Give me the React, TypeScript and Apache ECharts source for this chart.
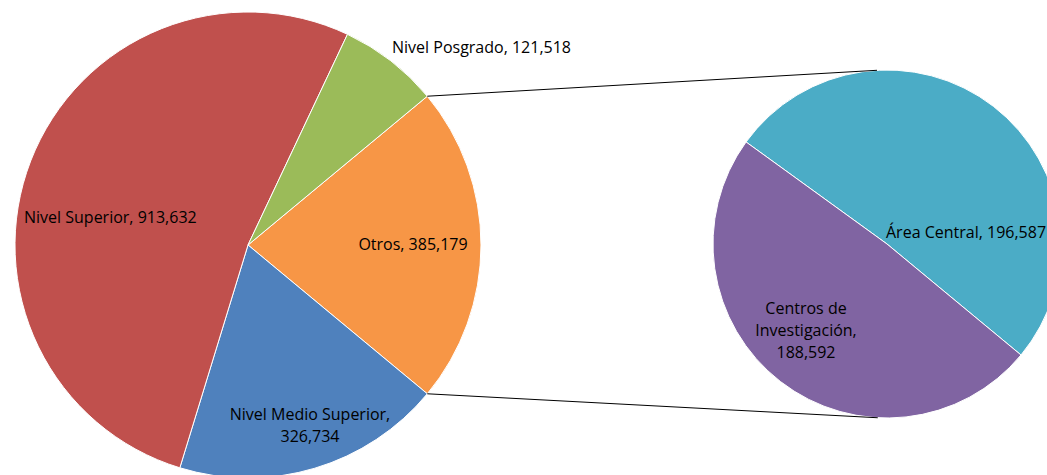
import React, { useEffect, useRef } from "react";
import * as echarts from "echarts";

const mainNames = ["Otros", "Nivel Medio Superior", "Nivel Superior", "Nivel Posgrado"];
const mainValues = [385179, 326734, 913632, 121518];
const mainColors = ["#F79646", "#4F81BD", "#C0504D", "#9BBB59"];

const subNames = ["Área Central", "Centros de Investigación"];
const subValues = [196587, 188592];
const subColors = ["#4BACC6", "#8064A2"];

const labelText: Record<string, string> = {
  "Otros": "Otros, 385,179",
  "Nivel Medio Superior": "Nivel Medio Superior,\n326,734",
  "Nivel Superior": "Nivel Superior, 913,632",
  "Nivel Posgrado": "Nivel Posgrado, 121,518",
  "Área Central": "Área Central, 196,587",
  "Centros de Investigación": "Centros de\nInvestigación,\n188,592",
};

const labelPos: Record<string, { x: number; y: number; align: string }> = {
  "Otros": { x: 413, y: 244, align: "center" },
  "Nivel Medio Superior": { x: 310, y: 425, align: "center" },
  "Nivel Superior": { x: 24, y: 217, align: "left" },
  "Nivel Posgrado": { x: 392, y: 47, align: "left" },
  "Área Central": { x: 886, y: 232, align: "left" },
  "Centros de Investigación": { x: 806, y: 330, align: "center" },
};

const FONT = "'Open Sans', 'Noto Sans', sans-serif";

export default function App() {
  const ref = useRef<HTMLDivElement>(null);
  useEffect(() => {
    if (!ref.current) return;
    const chart = echarts.init(ref.current, undefined, { renderer: "svg" });

    const c1 = [248, 245];
    const r1 = 233;
    const c2 = [887, 244];
    const r2 = 174;

    const total = mainValues.reduce((a, b) => a + b, 0);
    const half = (mainValues[0] / total) * 180;
    const startMain = half;
    const startSub = 144.1;

    const rad = (d: number) => (d * Math.PI) / 180;
    const pTop = [c1[0] + r1 * Math.cos(rad(half)), c1[1] - r1 * Math.sin(rad(half))];
    const pBot = [c1[0] + r1 * Math.cos(rad(-half)), c1[1] - r1 * Math.sin(rad(-half))];
    const tangent = (p: number[], upper: boolean) => {
      const dx = p[0] - c2[0];
      const dy = -(p[1] - c2[1]);
      const d = Math.sqrt(dx * dx + dy * dy);
      const base = Math.atan2(dy, dx);
      const off = Math.acos(r2 / d);
      const a = upper ? base - off : base + off;
      return [c2[0] + r2 * Math.cos(a), c2[1] - r2 * Math.sin(a)];
    };
    const tTop = tangent(pTop, true);
    const tBot = tangent(pBot, false);

    const makeLayout = (names: string[]) => (params: any) => {
      const p = labelPos[names[params.dataIndex]];
      return { x: p.x, y: p.y, align: p.align, verticalAlign: "middle" };
    };

    const labelCommon = {
      show: true,
      position: "inside",
      color: "#000",
      fontFamily: FONT,
      fontSize: 16,
      lineHeight: 22,
      formatter: (p: any) => labelText[p.name],
    };

    chart.setOption({
      animation: false,
      backgroundColor: "#fff",
      series: [
        {
          type: "pie",
          center: c1,
          radius: r1,
          startAngle: startMain,
          clockwise: true,
          silent: true,
          data: mainNames.map((n, i) => ({
            name: n,
            value: mainValues[i],
            itemStyle: { color: mainColors[i] },
          })),
          itemStyle: { borderColor: "#fff", borderWidth: 1 },
          label: labelCommon,
          labelLine: { show: false },
          labelLayout: makeLayout(mainNames),
        },
        {
          type: "pie",
          center: c2,
          radius: r2,
          startAngle: startSub,
          clockwise: true,
          silent: true,
          data: subNames.map((n, i) => ({
            name: n,
            value: subValues[i],
            itemStyle: { color: subColors[i] },
          })),
          itemStyle: { borderColor: "#fff", borderWidth: 1 },
          label: labelCommon,
          labelLine: { show: false },
          labelLayout: makeLayout(subNames),
        },
      ],
      graphic: [
        {
          type: "line",
          shape: { x1: pTop[0], y1: pTop[1], x2: tTop[0], y2: tTop[1] },
          style: { stroke: "#000", lineWidth: 1 },
          z: 10,
        },
        {
          type: "line",
          shape: { x1: pBot[0], y1: pBot[1], x2: tBot[0], y2: tBot[1] },
          style: { stroke: "#000", lineWidth: 1 },
          z: 10,
        },
      ],
    });
    return () => chart.dispose();
  }, []);
  return (
    <div
      ref={ref}
      style={{ position: "fixed", left: 0, top: 0, width: 1047, height: 475 }}
    />
  );
}
